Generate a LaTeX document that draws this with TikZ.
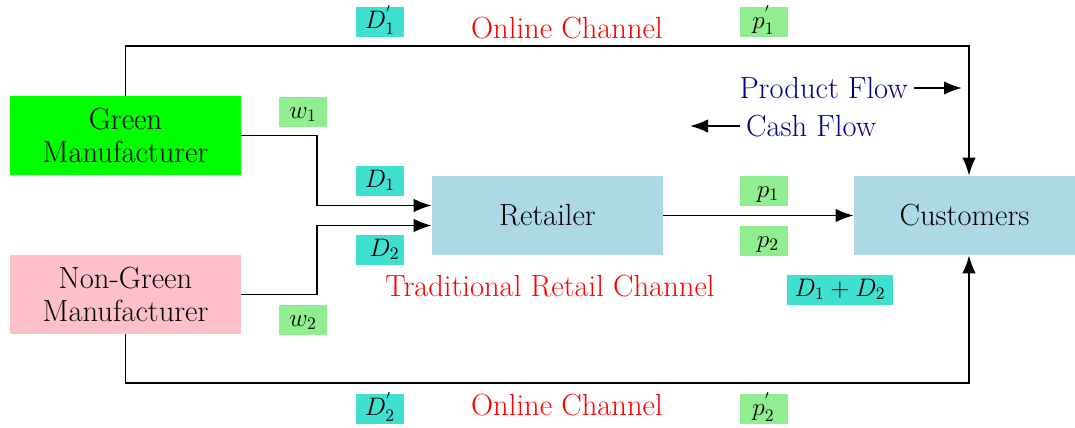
\documentclass[tikz,border=0pt]{standalone}
\usetikzlibrary{arrows.meta,calc}
\definecolor{turq}{RGB}{64,224,208}
\definecolor{lgreen}{RGB}{144,238,144}
\definecolor{lblue}{RGB}{173,216,230}
\definecolor{pinkc}{RGB}{255,192,203}
\definecolor{navyc}{RGB}{0,0,128}
\definecolor{redc}{RGB}{255,0,0}
\begin{document}
\begin{tikzpicture}[x=0.02cm,y=-0.02cm,
  every node/.style={font=\fontsize{17.4}{19}\selectfont},
  box/.style={minimum width=4.62cm,minimum height=1.58cm,inner sep=0pt,align=center},
  lab/.style={font=\fontsize{14.4}{17}\selectfont,minimum width=0.96cm,minimum height=0.6cm,inner sep=0pt,text height=10pt,text depth=3pt},
  conn/.style={line width=1.1pt,-{Latex[length=0.36cm,width=0.27cm]}},
  chan/.style={text=redc},
  flow/.style={text=navyc}]
\useasboundingbox (0,0) rectangle (1075,428);
% main boxes
\node[box,fill={rgb,255:red,0;green,255;blue,0}] (gm) at (125.5,135.5) {Green\\Manufacturer};
\node[box,fill=pinkc] (ng) at (125.5,294.5) {Non-Green\\Manufacturer};
\node[box,fill=lblue] (ret) at (547.5,215.5) {Retailer};
\node[box,fill=lblue,minimum width=4.42cm] (cust) at (964.5,215.5) {Customers};
% coordinates
\coordinate (t1) at (125.5,46);
\coordinate (t2) at (969,46);
\coordinate (b1) at (125.5,383);
\coordinate (b2) at (969,383);
% connectors
\draw[conn] (gm.north) -- (t1) -- (t2) -- (t2 |- cust.north);
\draw[conn] (ng.south) -- (b1) -- (b2) -- (b2 |- cust.south);
\draw[conn] (gm.east) -- ++(76,0) |- ($(ret.west)+(0,-10)$);
\draw[conn] (ng.east) -- ++(76,0) |- ($(ret.west)+(0,10)$);
\draw[conn] (ret.east) -- (cust.west);
% labels
\node[lab,fill=turq] (d1p) at (380,22) {$D^{'}_1$};
\node[chan] (oc1) at (567,28) {Online Channel};
\node[lab,fill=lgreen] (p1p) at (763.5,22) {$p^{'}_1$};
\node[lab,fill=lgreen] (w1) at (303,112) {$w_1$};
\node[lab,fill=turq] (d1) at (380,181) {$D_1$};
\node[lab,fill=turq] (d2) at (380,250) {\hspace{5pt}$D_2$};
\node[lab,fill=lgreen] (p1) at (763.5,191) {\hspace{5pt}$p_1$};
\node[lab,fill=lgreen] (p2) at (763.5,241) {\hspace{5pt}$p_2$};
\node[chan] (trc) at (550,286) {Traditional Retail Channel};
\node[lab,fill=turq,minimum width=2.12cm] (d12) at (840,290) {$D_1+D_2$};
\node[lab,fill=lgreen] (w2) at (303,320) {$w_2$};
\node[lab,fill=turq] (d2p) at (380,409) {$D^{'}_2$};
\node[chan] (oc2) at (567,405) {Online Channel};
\node[lab,fill=lgreen] (p2p) at (763.5,409) {$p^{'}_2$};
% legend
\node[flow,anchor=east] (pf) at (914,88) {Product Flow};
\coordinate (pfe) at (962,88);
\draw[conn] (pf.east) -- (pfe);
\node[flow,anchor=west] (cf) at (740,126) {Cash Flow};
\coordinate (cfe) at (690,126);
\draw[conn] (cf.west) -- (cfe |- cf.west);
\end{tikzpicture}
\end{document}
